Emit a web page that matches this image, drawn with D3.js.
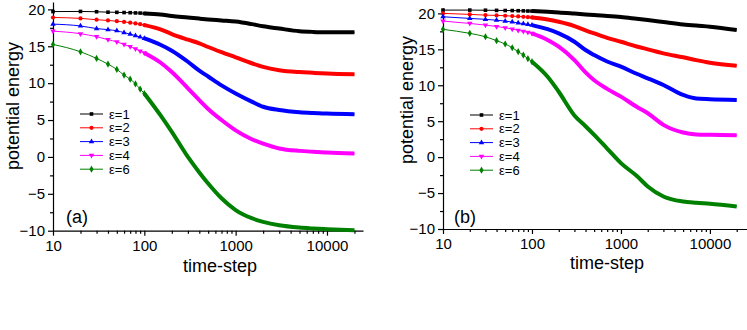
<!DOCTYPE html>
<html lang="en">
<head>
  <meta charset="UTF-8" />
  <title>potential energy vs time-step</title>
  <script src="https://d3js.org/d3.v7.min.js"></script>
  <style>
    body { margin: 0; background: #fff; }
    svg { display: block; font-family: "Liberation Sans", Arial, sans-serif; }
    .domain, .tick line { stroke: #000; stroke-width: 1.2px; }
  </style>
</head>
<body>
  <svg id="chart" width="747" height="330"></svg>
  <script>
    const timeSteps = [10, 20, 30, 40, 50, 60, 70, 80, 90, 100, 150, 200, 300, 400, 500, 700,
      1000, 1500, 2000, 3000, 5000, 7000, 10000, 20000];

    const legendLabels = ["ε=1", "ε=2", "ε=3", "ε=4", "ε=6"];
    const colors = ["#000000", "#ff0000", "#0000ff", "#ff00ff", "#008000"];

    // panel (a)
    const energyA1 = [19.7, 19.72, 19.68, 19.62, 19.6, 19.57, 19.55, 19.52, 19.5, 19.45, 19.3, 19.1, 18.9, 18.75,
      18.64, 18.5, 18.35, 18.0, 17.7, 17.4, 17.05, 16.95, 16.9, 16.9];
    const energyA2 = [18.9, 18.78, 18.6, 18.5, 18.4, 18.3, 18.2, 18.1, 18.0, 17.87, 17.3, 16.65, 15.9, 15.4,
      14.9, 14.2, 13.5, 12.7, 12.2, 11.76, 11.5, 11.4, 11.3, 11.2];
    const energyA3 = [18.0, 17.75, 17.4, 17.25, 17.1, 16.85, 16.65, 16.45, 16.25, 16.06, 15.2, 14.4, 12.9, 11.7,
      10.9, 9.7, 8.6, 7.5, 6.8, 6.35, 6.05, 5.95, 5.88, 5.8];
    const energyA4 = [17.05, 16.7, 16.3, 15.9, 15.6, 15.25, 14.95, 14.65, 14.35, 14.1, 12.8, 11.5, 9.3, 7.7,
      6.5, 5.0, 3.6, 2.4, 1.8, 1.15, 0.82, 0.7, 0.6, 0.46];
    const energyA6 = [15.25, 14.25, 13.35, 12.58, 11.86, 11.09, 10.54, 9.9, 9.2, 8.6, 5.66, 3.4, 0.0, -2.1,
      -3.6, -5.6, -7.2, -8.3, -8.8, -9.27, -9.58, -9.7, -9.8, -9.95];

    // panel (b)
    const energyB1 = [20.46, 20.46, 20.44, 20.42, 20.4, 20.39, 20.37, 20.35, 20.33, 20.32, 20.22, 20.14, 19.98, 19.86,
      19.76, 19.65, 19.5, 19.25, 19.07, 18.8, 18.47, 18.3, 18.14, 17.68];
    const energyB2 = [20.0, 19.86, 19.76, 19.72, 19.67, 19.62, 19.57, 19.52, 19.48, 19.44, 19.15, 18.83, 18.24, 17.65,
      17.22, 16.6, 16.06, 15.4, 15.0, 14.44, 13.89, 13.5, 13.14, 12.72];
    const energyB3 = [19.53, 19.3, 19.17, 19.05, 18.93, 18.8, 18.68, 18.57, 18.47, 18.37, 17.8, 17.22, 16.06, 14.9,
      14.2, 13.3, 12.58, 11.6, 10.97, 10.04, 8.65, 8.15, 8.06, 7.96];
    const energyB4 = [18.93, 18.6, 18.37, 18.18, 18.0, 17.82, 17.65, 17.5, 17.35, 17.22, 16.3, 15.36, 13.5, 11.8,
      10.7, 9.5, 8.42, 7.0, 6.11, 4.49, 3.42, 3.15, 3.1, 3.06];
    const energyB6 = [17.78, 17.22, 16.75, 16.2, 15.74, 15.22, 14.67, 14.2, 13.7, 13.28, 11.19, 9.1, 5.8, 4.3,
      3.1, 1.2, -0.83, -2.6, -4.08, -5.47, -6.17, -6.35, -6.49, -6.86];

    const xTicks = [10, 100, 1000, 10000];
    const yTicks = [-10, -5, 0, 5, 10, 15, 20];

    const panels = [
      {
        tag: "(a)", series: [energyA1, energyA2, energyA3, energyA4, energyA6],
        xRange: [53, 363], xMax: 24800, yRange: [230.7, 2], yMax: 21,
        yTitleX: 18.5, yTitleY: 106, xTitleX: 220, xTitleY: 272,
        legendX: 80, legendY: 114, tagX: 66, tagY: 223
      },
      {
        tag: "(b)", series: [energyB1, energyB2, energyB3, energyB4, energyB6],
        xRange: [443, 746.7], xMax: 25900, yRange: [229, 8], yMax: 20.75,
        yTitleX: 413, yTitleY: 100, xTitleX: 607, xTitleY: 269,
        legendX: 470, legendY: 115, tagX: 454, tagY: 223
      }
    ];

    const symbolTypes = [d3.symbolSquare, d3.symbolCircle, d3.symbolTriangle, d3.symbolTriangle, d3.symbolDiamond];
    const symbolRotate = [0, 0, 0, 180, 0];
    const symbolSizes = [13, 14, 13, 13, 15];

    const svg = d3.select("#chart");

    panels.forEach(p => {
      const x = d3.scaleLog().domain([10, p.xMax]).range(p.xRange);
      const y = d3.scaleLinear().domain([-10, p.yMax]).range(p.yRange);
      const g = svg.append("g");

      // minor ticks
      const minorX = [];
      [10, 100, 1000, 10000].forEach(d => {
        for (let k = 2; k <= 9; k++) if (d * k <= p.xMax) minorX.push(d * k);
      });
      g.append("g")
        .attr("transform", `translate(0,${p.yRange[0]})`)
        .call(d3.axisBottom(x).tickValues(minorX).tickSize(3).tickFormat(""))
        .call(a => a.select(".domain").remove());
      g.append("g")
        .attr("transform", `translate(${p.xRange[0]},0)`)
        .call(d3.axisLeft(y).tickValues([-7.5, -2.5, 2.5, 7.5, 12.5, 17.5]).tickSize(3).tickFormat(""))
        .call(a => a.select(".domain").remove());

      // major axes
      const xAxis = g.append("g")
        .attr("transform", `translate(0,${p.yRange[0]})`)
        .call(d3.axisBottom(x).tickValues(xTicks).tickSize(5).tickSizeOuter(0).tickPadding(3).tickFormat(d3.format("d")));
      xAxis.selectAll("text").attr("font-size", 15).attr("fill", "#000");
      const yAxis = g.append("g")
        .attr("transform", `translate(${p.xRange[0]},0)`)
        .call(d3.axisLeft(y).tickValues(yTicks).tickSize(5).tickSizeOuter(0).tickPadding(3));
      yAxis.selectAll("text").attr("font-size", 15).attr("fill", "#000");
      xAxis.selectAll(".tick text").attr("dy", "0.8em");

      // axis titles
      g.append("text")
        .attr("x", p.xTitleX).attr("y", p.xTitleY)
        .attr("text-anchor", "middle").attr("font-size", 18)
        .text("time-step");
      g.append("text")
        .attr("transform", `translate(${p.yTitleX},${p.yTitleY}) rotate(-90)`)
        .attr("text-anchor", "middle").attr("font-size", 18)
        .text("potential energy");

      g.append("text")
        .attr("x", p.tagX).attr("y", p.tagY)
        .attr("font-size", 18)
        .text(p.tag);

      const line = d3.line()
        .x(d => x(d.t))
        .y(d => y(d.v))
        .curve(d3.curveMonotoneX);

      p.series.forEach((vals, si) => {
        const pts = timeSteps.map((t, i) => ({ t: t, v: vals[i] }));
        const c = colors[si];
        // thin connecting line
        g.append("path")
          .datum(pts)
          .attr("fill", "none")
          .attr("stroke", c)
          .attr("stroke-width", 1)
          .attr("d", line);
        // dense part, where the markers merge into a band
        g.append("path")
          .datum(pts.filter(d => d.t >= 100))
          .attr("fill", "none")
          .attr("stroke", c)
          .attr("stroke-width", 4)
          .attr("stroke-linejoin", "round")
          .attr("d", line);
        // discrete markers
        g.append("g")
          .selectAll("path")
          .data(pts.filter(d => d.t <= 100))
          .join("path")
          .attr("transform", d => `translate(${x(d.t)},${y(d.v)}) rotate(${symbolRotate[si]})`)
          .attr("d", d3.symbol().type(symbolTypes[si]).size(symbolSizes[si]))
          .attr("fill", c);

        // legend
        const ly = p.legendY + si * 13.8;
        const lg = g.append("g");
        lg.append("line")
          .attr("x1", p.legendX).attr("x2", p.legendX + 23)
          .attr("y1", ly).attr("y2", ly)
          .attr("stroke", c).attr("stroke-width", 1);
        lg.append("path")
          .attr("transform", `translate(${p.legendX + 11.5},${ly}) rotate(${symbolRotate[si]})`)
          .attr("d", d3.symbol().type(symbolTypes[si]).size(symbolSizes[si]))
          .attr("fill", c);
        lg.append("text")
          .attr("x", p.legendX + 29).attr("y", ly)
          .attr("dy", "0.36em")
          .attr("font-size", 13)
          .text(legendLabels[si]);
      });
    });
  </script>
</body>
</html>
